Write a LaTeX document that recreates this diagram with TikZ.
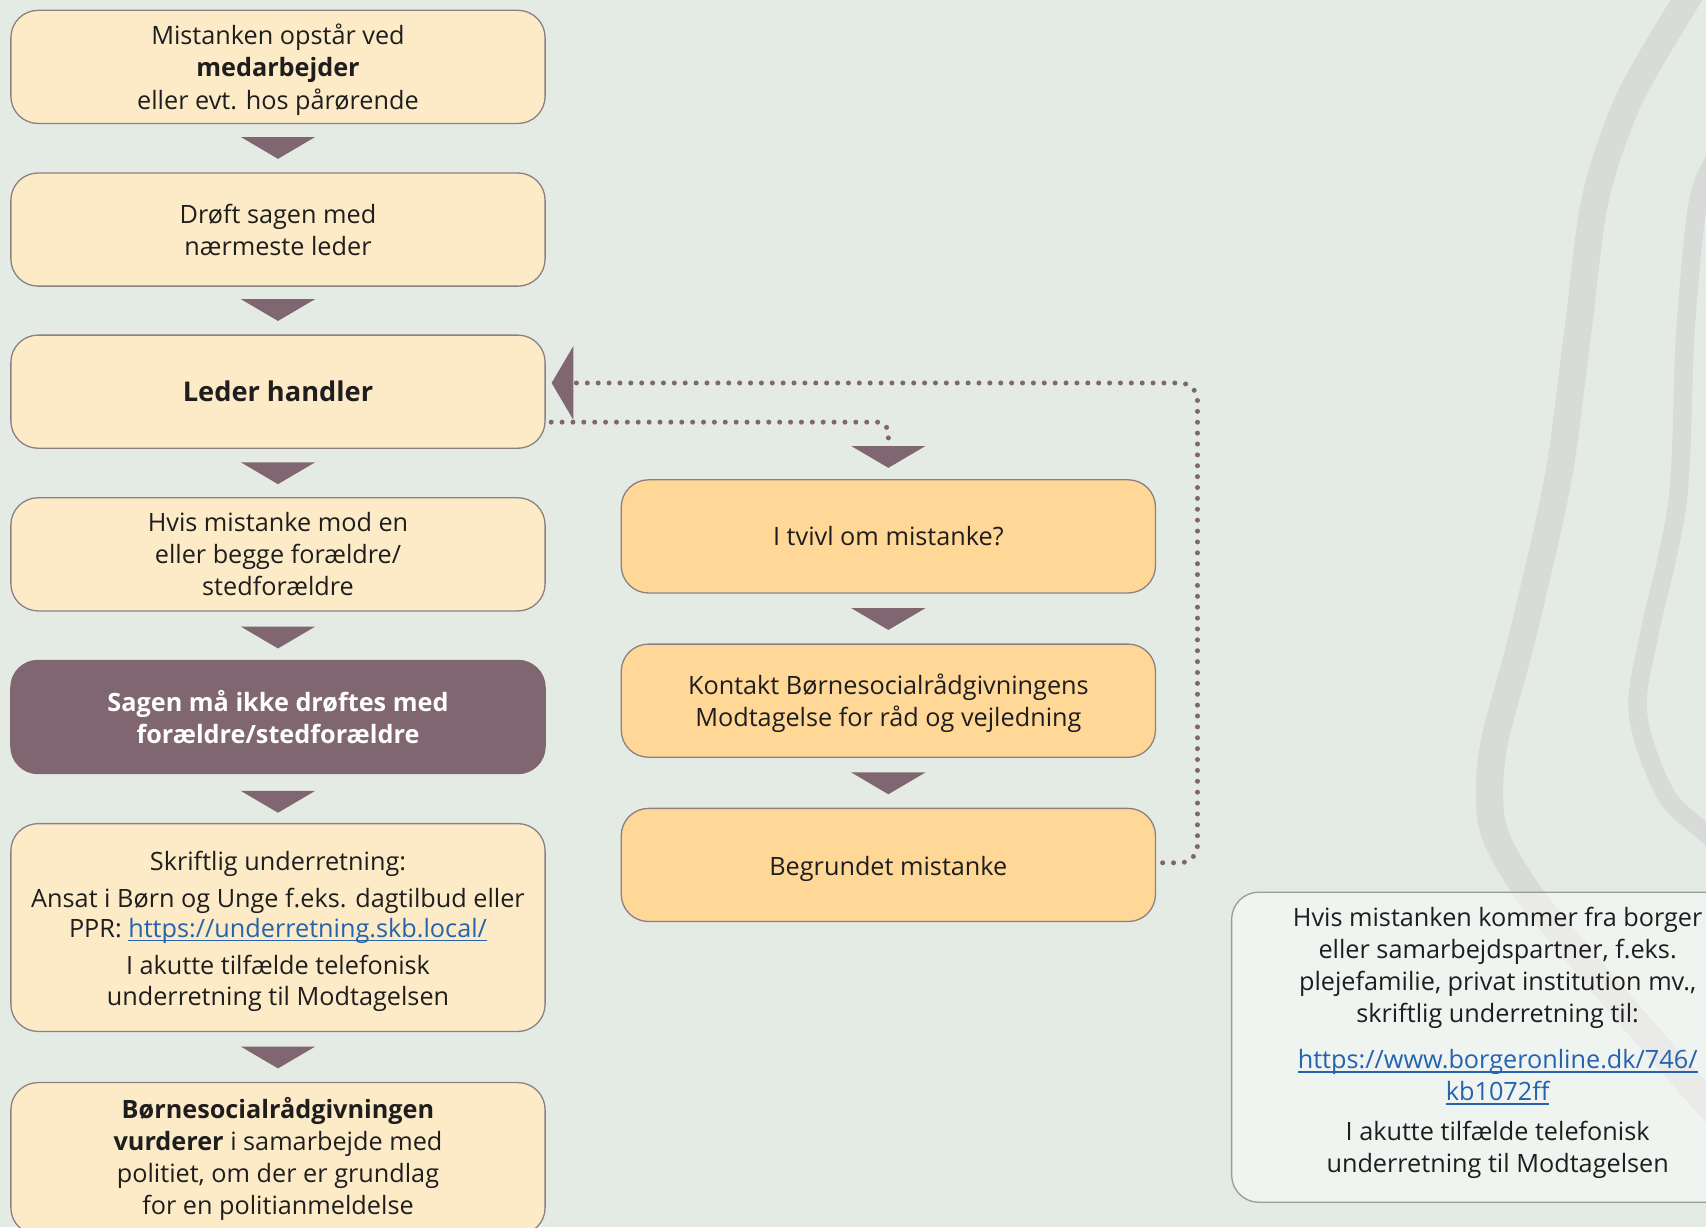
\documentclass[tikz,border=0pt]{standalone}
\usepackage{fontspec}
\setmainfont{Open Sans}
\usetikzlibrary{calc}
\definecolor{bg}{HTML}{E4EBE5}
\definecolor{cream}{HTML}{FDEBC8}
\definecolor{boxorange}{HTML}{FFD797}
\definecolor{mauve}{HTML}{7F6670}
\definecolor{boxline}{HTML}{8C8182}
\definecolor{infoline}{HTML}{9A9C9A}
\definecolor{linkblue}{HTML}{2464AE}
\definecolor{bandgray}{HTML}{D9DBD8}
\definecolor{txt}{HTML}{1F1E1E}
\newcommand{\tridown}[2]{\fill[mauve] (#1-34,#2) -- (#1+34,#2) -- (#1,#2+20) -- cycle;}
\newcommand{\lnk}[1]{{\color{linkblue}\setbox0\hbox{#1}\rlap{\rule[-1.7pt]{\wd0}{0.55pt}}\box0}}
\newcommand{\tstrut}[1]{\rule{0pt}{#1}}
\begin{document}
\begin{tikzpicture}[x=0.5pt,y=-0.5pt,
  every node/.style={font=\fontsize{11.6}{14.75}\selectfont, text=txt},
  box/.style={draw=boxline, line width=0.6pt, rounded corners=12.5pt,
    minimum width=245.5pt, minimum height=52pt, align=center, inner sep=0pt},
  lbox/.style={box, fill=cream},
  mbox/.style={box, fill=boxorange},
  dbox/.style={box, fill=mauve, draw=mauve, text=white,
    font=\fontsize{11.6}{14.75}\selectfont\bfseries},
  infobox/.style={box, draw=infoline, fill=white, fill opacity=0.45,
    minimum height=142.5pt},
  infotext/.style={align=center, inner sep=0pt},
  dotline/.style={mauve, line width=2.3pt, line cap=round, dash pattern=on 0pt off 5pt},
  band/.style={bandgray, line cap=round}]
\useasboundingbox (0,0) rectangle (1568,1128);
\clip (0,0) rectangle (1568,1128);
\fill[bg] (0,0) rectangle (1568,1128);
% decorative bands
\draw[band, line width=12.5pt] plot[smooth, tension=0.5] coordinates
  {(1580,-45) (1550,0) (1497,92) (1466,184) (1450,306) (1432,440) (1400,582)
   (1372,690) (1372,760) (1403,818) (1460,889) (1552,995) (1610,1060)};
\draw[band, line width=8.5pt] plot[smooth, tension=0.5] coordinates
  {(1600,105) (1581,138) (1561,184) (1549,306) (1542,460) (1516,582) (1505,643)
   (1512,685) (1534,735) (1568,766) (1600,795)};
% left column
\node[lbox] (b1) at (255.5,61.5) {\tstrut{12pt}Mistanken opstår ved\\\textbf{medarbejder}\\eller evt. hos pårørende};
\node[lbox] (b2) at (255.5,211) {Drøft sagen med\\nærmeste leder};
\node[lbox, font=\fontsize{12.5}{15}\selectfont\bfseries] (b3) at (255.5,360) {Leder handler};
\node[lbox] (b4) at (255.5,509.5) {Hvis mistanke mod en\\eller begge forældre/\\stedforældre};
\node[dbox] (b5) at (255.5,659) {Sagen må ikke drøftes med\\forældre/stedforældre};
\node[lbox, minimum height=95.5pt, font=\fontsize{11.6}{14}\selectfont] (b6) at (255.5,852.5)
  {\tstrut{12pt}Skriftlig underretning:\\[3pt]Ansat i Børn og Unge f.eks. dagtilbud eller\\PPR: \lnk{https://underretning.skb.local/}\\[3pt]I akutte tilfælde telefonisk\\underretning til Modtagelsen};
\node[lbox, minimum height=70pt] (b7) at (255.5,1065)
  {\textbf{Børnesocialrådgivningen}\\\textbf{vurderer} i samarbejde med\\politiet, om der er grundlag\\for en politianmeldelse};
% middle column
\node[mbox] (m1) at (816.5,493) {I tvivl om mistanke?};
\node[mbox] (m2) at (816.5,644) {\tstrut{12pt}Kontakt Børnesocialrådgivningens\\Modtagelse for råd og vejledning};
\node[mbox] (m3) at (816.5,795) {\tstrut{12.5pt}Begrundet mistanke};
% info box
\node[infobox] (inf) at (1377.5,962.5) {};
\node[infotext] (inftext) at ($(inf.center)+(-1,-4)$)
  {Hvis mistanken kommer fra borger\\eller samarbejdspartner, f.eks.\\plejefamilie, privat institution mv.,\\skriftlig underretning til:\\[6.5pt]\lnk{https://www.borgeronline.dk/746/}\\\lnk{kb1072ff}\\[3.5pt]I akutte tilfælde telefonisk\\underretning til Modtagelsen};
% down triangles
\tridown{255.5}{126}
\tridown{255.5}{275}
\tridown{255.5}{425}
\tridown{255.5}{576}
\tridown{255.5}{727}
\tridown{255.5}{962}
\tridown{816.5}{410}
\tridown{816.5}{559}
\tridown{816.5}{710}
% left-pointing triangle at Leder handler
\fill[mauve] (507,352) -- (527,318) -- (527,386) -- cycle;
% dotted connectors
\coordinate (lhlow) at ($(b3.east)+(5,28)$);
\coordinate (m1in) at ($(m1.north)+(0,-33)$);
\coordinate (bmout) at ($(m3.east)+(6,-2)$);
\coordinate (lhin) at ($(b3.east)+(27,-8)$);
\draw[dotline, rounded corners=5pt] (lhlow) -| (m1in);
\draw[dotline, rounded corners=8pt] (bmout) -- ++(32,0) |- (lhin);
\end{tikzpicture}
\end{document}
